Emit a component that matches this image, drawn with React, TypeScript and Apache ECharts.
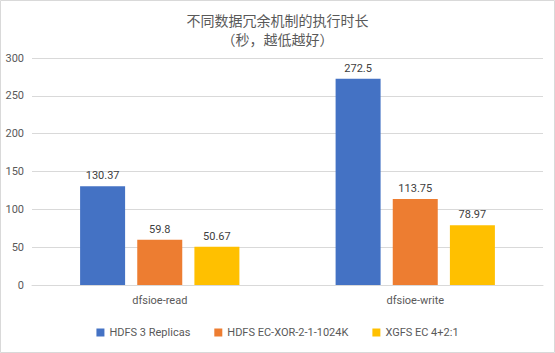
import React, { useEffect, useRef } from "react";
import * as echarts from "echarts";

const categories = ["dfsioe-read", "dfsioe-write"];
const seriesNames = ["HDFS 3 Replicas", "HDFS EC-XOR-2-1-1024K", "XGFS EC 4+2:1"];
const hdfs3Replicas = [130.37, 272.5];
const hdfsEcXor = [59.8, 113.75];
const xgfsEc = [50.67, 78.97];
const colors = ["#4472C4", "#ED7D31", "#FFC000"];
const titleText = "不同数据冗余机制的执行时长";
const subtitleText = "（秒，越低越好）";

const FONT = "Roboto, 'Liberation Sans', sans-serif";
const CJK = "'Noto Sans CJK SC', sans-serif";

export default function App() {
  const ref = useRef<HTMLDivElement>(null);
  useEffect(() => {
    const chart = echarts.init(ref.current!, null, { renderer: "svg" });
    const values = [hdfs3Replicas, hdfsEcXor, xgfsEc];
    chart.setOption({
      animation: false,
      backgroundColor: "#ffffff",
      title: [
        {
          text: titleText,
          left: "center",
          top: 12,
          padding: 0,
          textStyle: { fontFamily: CJK, fontSize: 14, lineHeight: 15, fontWeight: "normal", color: "#595959" },
        },
        {
          text: subtitleText,
          left: "center",
          top: 31,
          padding: 0,
          textStyle: { fontFamily: CJK, fontSize: 14, lineHeight: 15, fontWeight: "normal", color: "#595959" },
        },
      ],
      graphic: [
        {
          type: "rect",
          shape: { x: 0.5, y: 0.5, width: 554, height: 352 },
          style: { fill: "none", stroke: "#D9D9D9", lineWidth: 1 },
          silent: true,
        },
      ],
      legend: {
        data: seriesNames,
        bottom: 10,
        left: "center",
        itemWidth: 8,
        itemHeight: 8,
        itemGap: 24,
        icon: "rect",
        textStyle: { fontFamily: FONT, fontSize: 11, color: "#595959" },
      },
      grid: { left: 32, right: 12, top: 58, bottom: 68, containLabel: false },
      xAxis: {
        type: "category",
        data: categories,
        axisTick: { show: false },
        axisLine: { lineStyle: { color: "#D9D9D9" } },
        axisLabel: { fontFamily: FONT, fontSize: 11, color: "#595959", margin: 10 },
      },
      yAxis: {
        type: "value",
        min: 0,
        max: 300,
        interval: 50,
        axisLine: { show: false },
        axisTick: { show: false },
        splitLine: { lineStyle: { color: "#D9D9D9" } },
        axisLabel: { fontFamily: FONT, fontSize: 11, color: "#595959", margin: 8 },
      },
      series: seriesNames.map((name, i) => ({
        name,
        type: "bar",
        data: values[i],
        barWidth: 45,
        barGap: "27%",
        itemStyle: { color: colors[i] },
        label: {
          show: true,
          position: "top",
          distance: 5,
          fontFamily: FONT,
          fontSize: 11,
          color: "#404040",
        },
      })),
    });
    return () => chart.dispose();
  }, []);
  return (
    <div
      ref={ref}
      style={{ position: "absolute", left: 0, top: 0, width: 555, height: 353 }}
    />
  );
}
